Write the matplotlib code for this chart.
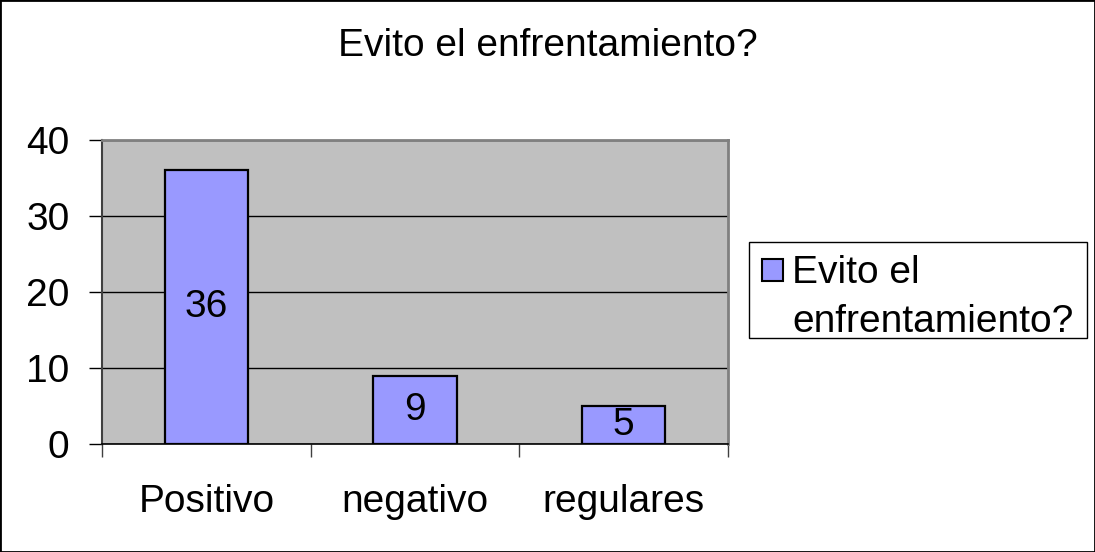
import matplotlib
matplotlib.use("Agg")
import matplotlib.pyplot as plt
from matplotlib.patches import Rectangle
from matplotlib.ticker import FixedLocator

categories = ["Positivo", "negativo", "regulares"]
values = [36, 9, 5]
series_lines = ["Evito el", "enfrentamiento?"]
title = "Evito el enfrentamiento?"
yticks = [0, 10, 20, 30, 40]

plt.rcParams['font.family'] = ['Liberation Sans', 'DejaVu Sans']
FS = 28
BAR_COLOR = '#9999FF'

W, H = 1095, 552
fig = plt.figure(figsize=(W / 100, H / 100), dpi=100)
fig.patch.set_facecolor('white')
ax = fig.add_axes([0.0932, 0.1957, 0.5717, 0.5507])
ax.set_facecolor('#C0C0C0')

x = list(range(len(categories)))
bars = ax.bar(x, values, width=0.4, color=BAR_COLOR, edgecolor='black',
              linewidth=1.6, zorder=3)
ax.bar_label(bars, labels=[str(v) for v in values], label_type='center',
             fontsize=FS, color='black')

ax.set_xlim(-0.5, len(categories) - 0.5)
ax.set_ylim(0, 40)
ax.set_yticks(yticks)
ax.set_yticklabels([str(t) for t in yticks], fontsize=FS)
ax.yaxis.grid(True, color='black', linewidth=1.0, zorder=1)
ax.set_axisbelow(True)

ax.set_xticks(x)
ax.set_xticklabels(categories, fontsize=FS)
ax.tick_params(axis='x', which='major', length=0, pad=29)
ax.xaxis.set_minor_locator(FixedLocator([i - 0.5 for i in range(len(categories) + 1)]))
ax.tick_params(axis='x', which='minor', length=9, width=1, color='#404040', direction='out')
ax.tick_params(axis='y', which='major', length=9.5, width=1, color='black', direction='out', pad=14)

for s in ['top', 'right']:
    ax.spines[s].set_color('#808080')
    ax.spines[s].set_linewidth(2)
ax.spines['left'].set_color('#404040')
ax.spines['left'].set_linewidth(1.5)
ax.spines['bottom'].set_color('black')
ax.spines['bottom'].set_linewidth(1.2)

fig.text(0.5, (H - 56) / H, title, ha='center', va='baseline', fontsize=FS)

# Legend (drawn in figure pixel coordinates)
def fx(px):
    return px / W

def fy(py):
    return (H - py) / H

fig.patches.append(Rectangle((fx(749), fy(338)), fx(1087) - fx(749), fy(242) - fy(338),
                             transform=fig.transFigure, facecolor='white',
                             edgecolor='black', linewidth=1.0, zorder=5))
fig.patches.append(Rectangle((fx(762), fy(281)), fx(783) - fx(762), fy(259) - fy(281),
                             transform=fig.transFigure, facecolor=BAR_COLOR,
                             edgecolor='black', linewidth=1.5, zorder=6))
fig.text(fx(792), fy(283), series_lines[0], ha='left', va='baseline', fontsize=FS, zorder=7)
fig.text(fx(792), fy(332), series_lines[1], ha='left', va='baseline', fontsize=FS, zorder=7)

fig.patches.append(Rectangle((0, 0), 1, 1, transform=fig.transFigure, fill=False,
                             edgecolor='black', linewidth=2, zorder=10))

fig.savefig('out.png', dpi=100)
